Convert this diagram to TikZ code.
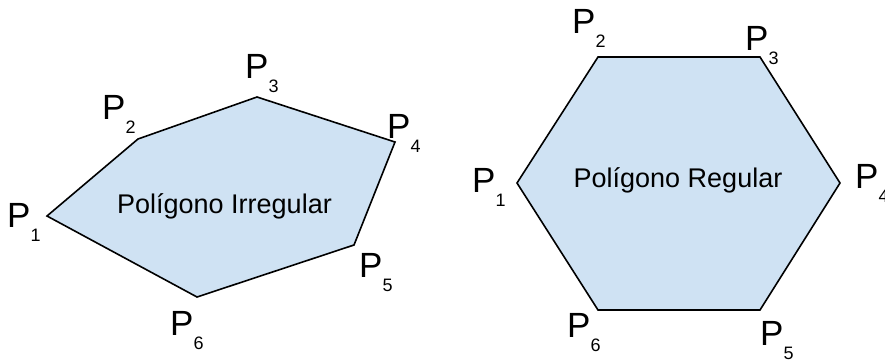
\documentclass[tikz,border=0pt]{standalone}
\usepackage{fontspec}
\setmainfont{Liberation Sans}
\usepackage{xcolor}
\usepackage{tikz}
\usetikzlibrary{positioning}

\definecolor{polyfill}{HTML}{CFE2F3}
\newcommand{\pname}[1]{P\raisebox{-14pt}{\fontsize{18}{18}\selectfont #1}}

\begin{document}
\begin{tikzpicture}[
    x=1pt, y=-1pt,
    polygon/.style={
        draw=black,
        line width=1.6pt,
        fill=polyfill
    },
    vertex/.style={
        anchor=base west,
        inner sep=0pt,
        font=\fontsize{35}{35}\selectfont
    },
    title/.style={
        anchor=base,
        inner sep=0pt,
        font=\fontsize{27}{27}\selectfont
    }
]
\useasboundingbox (0,0) rectangle (885,359);

% irregular polygon
\coordinate (i1) at (47,216);
\coordinate (i2) at (138,139);
\coordinate (i3) at (257,97);
\coordinate (i4) at (395,142);
\coordinate (i5) at (354,245);
\coordinate (i6) at (197,297);

\draw [polygon] (i1) -- (i2) -- (i3) -- (i4) -- (i5) -- (i6) -- cycle;

\node (ititle) [title] at (224.5,213) {Polígono Irregular};

\node (ip1) [vertex] at (7,227)   {\pname{1}};
\node (ip2) [vertex] at (102,119) {\pname{2}};
\node (ip3) [vertex] at (245,78)  {\pname{3}};
\node (ip4) [vertex] at (387,138) {\pname{4}};
\node (ip5) [vertex] at (359,277) {\pname{5}};
\node (ip6) [vertex] at (170,335) {\pname{6}};

% regular polygon
\coordinate (r1) at (517,183);
\coordinate (r2) at (598,57);
\coordinate (r3) at (760,57);
\coordinate (r4) at (840,183);
\coordinate (r5) at (760,310);
\coordinate (r6) at (598,310);

\draw [polygon] (r1) -- (r2) -- (r3) -- (r4) -- (r5) -- (r6) -- cycle;

\node (rtitle) [title] at (678,187) {Polígono Regular};

\node (rp1) [vertex] at (472,192) {\pname{1}};
\node (rp2) [vertex] at (572,33)  {\pname{2}};
\node (rp3) [vertex] at (745,50)  {\pname{3}};
\node (rp4) [vertex] at (855,188) {\pname{4}};
\node (rp5) [vertex] at (760,345) {\pname{5}};
\node (rp6) [vertex] at (567,337) {\pname{6}};

\end{tikzpicture}
\end{document}
